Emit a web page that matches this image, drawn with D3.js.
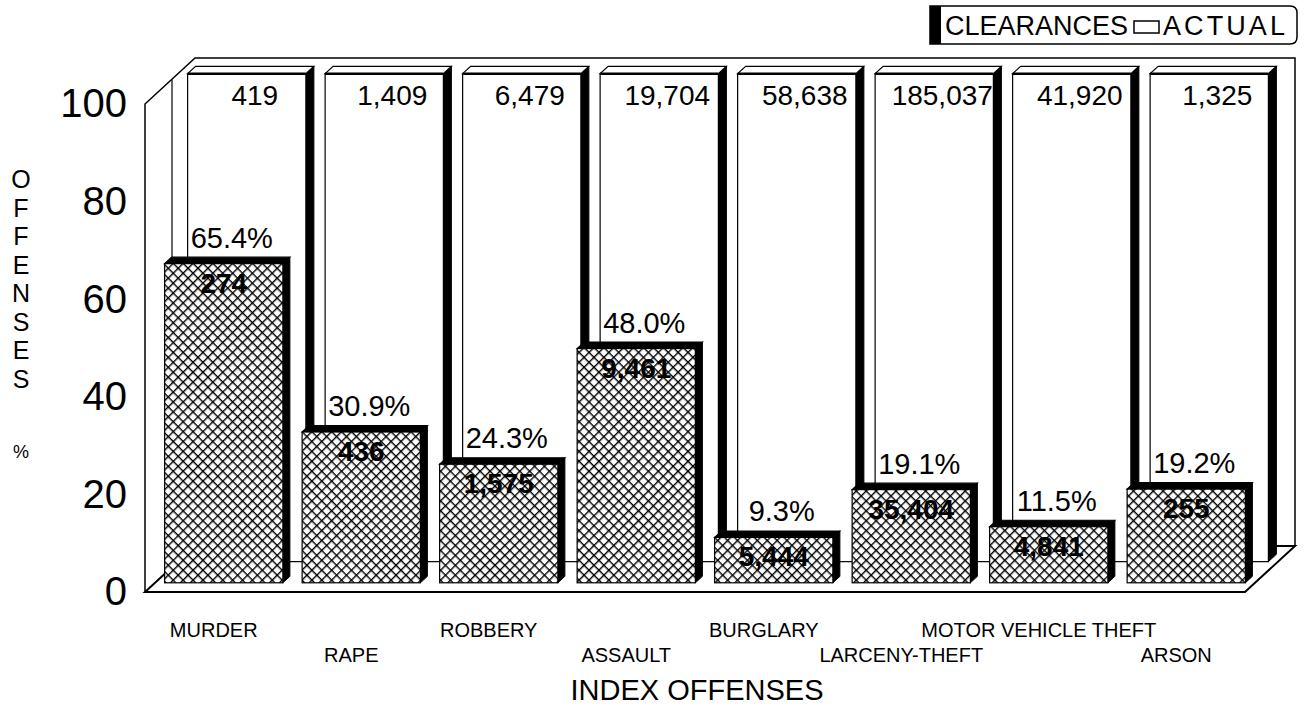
<!DOCTYPE html>
<html>
<head>
<meta charset="utf-8">
<script src="https://cdn.jsdelivr.net/npm/d3@7"></script>
<style>
  body { margin: 0; background: #fff; }
  svg { display: block; font-family: "Liberation Sans", Arial, Helvetica, sans-serif; }
</style>
</head>
<body>
<div id="chart"></div>
<script>
const categories = ["MURDER", "RAPE", "ROBBERY", "ASSAULT", "BURGLARY", "LARCENY-THEFT", "MOTOR VEHICLE THEFT", "ARSON"];
const actualCounts = [419, 1409, 6479, 19704, 58638, 185037, 41920, 1325];
const actualPct = [100, 100, 100, 100, 100, 100, 100, 100];
const clearedCounts = [274, 436, 1575, 9461, 5444, 35404, 4841, 255];
const clearedPct = [65.4, 30.9, 24.3, 48.0, 9.3, 19.1, 11.5, 19.2];
const yTicks = [0, 20, 40, 60, 80, 100];
const yTitle = ["O", "F", "F", "E", "N", "S", "E", "S"];

const W = 1304, H = 718;
const left = 145, right = 1245;
// oblique depth direction
const DX = 1, DY = 0.92;
const wallDepth = 50;
const front = { d0: 10, d1: 17 };
const back = { d0: 33, d1: 41 };

const x = d3.scaleBand()
    .domain(categories)
    .range([left, right])
    .paddingInner(0.14)
    .paddingOuter(0.07);

const y = d3.scaleLinear()
    .domain([0, 100])
    .range([592, 104]);

const pt = (px, v, d) => [px + d * DX, y(v) - d * DY];
const poly = pts => pts.map(p => p.join(",")).join(" ");
const fmt = d3.format(",");

const svg = d3.select("#chart").append("svg")
    .attr("width", W)
    .attr("height", H);

// crosshatch pattern
svg.append("defs").append("pattern")
    .attr("id", "hatch")
    .attr("patternUnits", "userSpaceOnUse")
    .attr("width", 7)
    .attr("height", 7)
    .attr("patternTransform", "rotate(45)")
    .call(p => {
        p.append("rect").attr("width", 7).attr("height", 7).attr("fill", "#fff");
        p.append("line").attr("x1", 0).attr("y1", 0).attr("x2", 7).attr("y2", 0)
            .attr("stroke", "#000").attr("stroke-width", 2.8);
        p.append("line").attr("x1", 0).attr("y1", 0).attr("x2", 0).attr("y2", 7)
            .attr("stroke", "#000").attr("stroke-width", 2.8);
    });

// floor and walls
const frame = svg.append("g").attr("fill", "none").attr("stroke", "#000").attr("stroke-width", 1.5);
frame.append("polygon")
    .attr("points", poly([pt(left, 0, 0), pt(right, 0, 0), pt(right, 0, wallDepth), pt(left, 0, wallDepth)]))
    .attr("fill", "#fff")
    .attr("stroke-width", 2);
frame.append("polyline")
    .attr("points", poly([pt(left, 0, 0), pt(left, 100, 0), pt(left, 100, wallDepth), pt(right, 100, wallDepth), pt(right, 0, wallDepth)]));
frame.append("line")
    .attr("x1", pt(left, 0, 27)[0]).attr("y1", pt(left, 0, 27)[1])
    .attr("x2", pt(left, 100, 27)[0]).attr("y2", pt(left, 100, 27)[1])
    .attr("stroke-width", 1.2);

function drawBlocks(g, values, depth, faceFill, topFill) {
    const w = x.bandwidth();
    const item = g.selectAll("g")
        .data(categories)
        .enter()
        .append("g");
    item.append("polygon")
        .attr("points", (c, i) => poly([pt(x(c) + w, 0, depth.d0), pt(x(c) + w, values[i], depth.d0),
            pt(x(c) + w, values[i], depth.d1), pt(x(c) + w, 0, depth.d1)]))
        .attr("fill", "#000").attr("stroke", "#000").attr("stroke-width", 1);
    item.append("polygon")
        .attr("points", (c, i) => poly([pt(x(c), values[i], depth.d0), pt(x(c) + w, values[i], depth.d0),
            pt(x(c) + w, values[i], depth.d1), pt(x(c), values[i], depth.d1)]))
        .attr("fill", topFill).attr("stroke", "#000").attr("stroke-width", 1.2);
    item.append("rect")
        .attr("x", c => pt(x(c), 0, depth.d0)[0])
        .attr("y", (c, i) => pt(x(c), values[i], depth.d0)[1])
        .attr("width", w)
        .attr("height", (c, i) => y(0) - y(values[i]))
        .attr("fill", faceFill)
        .attr("stroke", "#000")
        .attr("stroke-width", 1.2);
    return item;
}

// ACTUAL (back row)
const backG = svg.append("g");
drawBlocks(backG, actualPct, back, "#fff", "#fff");
backG.selectAll("line.edge")
    .data(categories)
    .enter()
    .append("line")
    .attr("x1", c => pt(x(c), 100, back.d0)[0])
    .attr("x2", c => pt(x(c) + x.bandwidth(), 100, back.d0)[0])
    .attr("y1", c => pt(x(c), 100, back.d0)[1])
    .attr("y2", c => pt(x(c), 100, back.d0)[1])
    .attr("stroke", "#000").attr("stroke-width", 2.5);

// CLEARANCES (front row)
const frontG = svg.append("g");
drawBlocks(frontG, clearedPct, front, "url(#hatch)", "#000");

// value labels
svg.append("g").selectAll("text")
    .data(categories)
    .enter()
    .append("text")
    .attr("x", c => pt(x(c) + x.bandwidth() / 2 + 8, 100, back.d0)[0])
    .attr("y", c => pt(x(c), 100, back.d0)[1] + 31)
    .attr("text-anchor", "middle")
    .attr("font-size", 28)
    .text((c, i) => fmt(actualCounts[i]));

svg.append("g").selectAll("text")
    .data(categories)
    .enter()
    .append("text")
    .attr("x", c => pt(x(c) + x.bandwidth() / 2 + 8, 0, front.d0)[0])
    .attr("y", (c, i) => pt(x(c), clearedPct[i], front.d0)[1] - 16)
    .attr("text-anchor", "middle")
    .attr("font-size", 29)
    .text((c, i) => clearedPct[i].toFixed(1) + "%");

svg.append("g").selectAll("text")
    .data(categories)
    .enter()
    .append("text")
    .attr("x", c => pt(x(c) + x.bandwidth() / 2, 0, front.d0)[0])
    .attr("y", (c, i) => pt(x(c), clearedPct[i], front.d0)[1] + 29)
    .attr("text-anchor", "middle")
    .attr("font-size", 28)
    .attr("font-weight", "bold")
    .text((c, i) => fmt(clearedCounts[i]));

// y axis
const yAxis = d3.axisLeft(y).tickValues(yTicks).tickSize(0).tickPadding(18);
svg.append("g")
    .attr("transform", `translate(${left},0)`)
    .call(yAxis)
    .call(g => g.select(".domain").remove())
    .call(g => g.selectAll("text")
        .attr("font-size", 40)
        .attr("font-family", "'Liberation Sans', Arial, sans-serif")
        .attr("fill", "#000"));

svg.append("g").selectAll("text")
    .data(yTitle)
    .enter()
    .append("text")
    .attr("x", 21)
    .attr("y", (d, i) => 188 + i * 28.5)
    .attr("text-anchor", "middle")
    .attr("font-size", 25)
    .text(d => d);
svg.append("text")
    .attr("x", 21).attr("y", 458)
    .attr("text-anchor", "middle")
    .attr("font-size", 18)
    .text("%");

// x labels
svg.append("g").selectAll("text")
    .data(categories)
    .enter()
    .append("text")
    .attr("x", c => x(c) + x.bandwidth() / 2)
    .attr("y", (c, i) => i % 2 === 0 ? 637 : 662)
    .attr("text-anchor", "middle")
    .attr("font-size", 20)
    .text(c => c);

svg.append("text")
    .attr("x", (left + right) / 2 + 2)
    .attr("y", 700)
    .attr("text-anchor", "middle")
    .attr("font-size", 29)
    .text("INDEX OFFENSES");

// legend
const legend = svg.append("g");
legend.append("path")
    .attr("d", "M930,6 H1290 Q1297,6 1297,13 V37 Q1297,44 1290,44 H930 Z")
    .attr("fill", "#fff").attr("stroke", "#000").attr("stroke-width", 1.5);
legend.append("rect")
    .attr("x", 930).attr("y", 6).attr("width", 11).attr("height", 38)
    .attr("fill", "#000");
legend.append("text")
    .attr("x", 945).attr("y", 35)
    .attr("font-size", 27)
    .text("CLEARANCES");
legend.append("rect")
    .attr("x", 1134).attr("y", 21).attr("width", 25).attr("height", 12)
    .attr("fill", "#fff").attr("stroke", "#000").attr("stroke-width", 1.5);
legend.append("text")
    .attr("x", 1163).attr("y", 35)
    .attr("font-size", 27)
    .attr("textLength", 122)
    .text("ACTUAL");
</script>
</body>
</html>
